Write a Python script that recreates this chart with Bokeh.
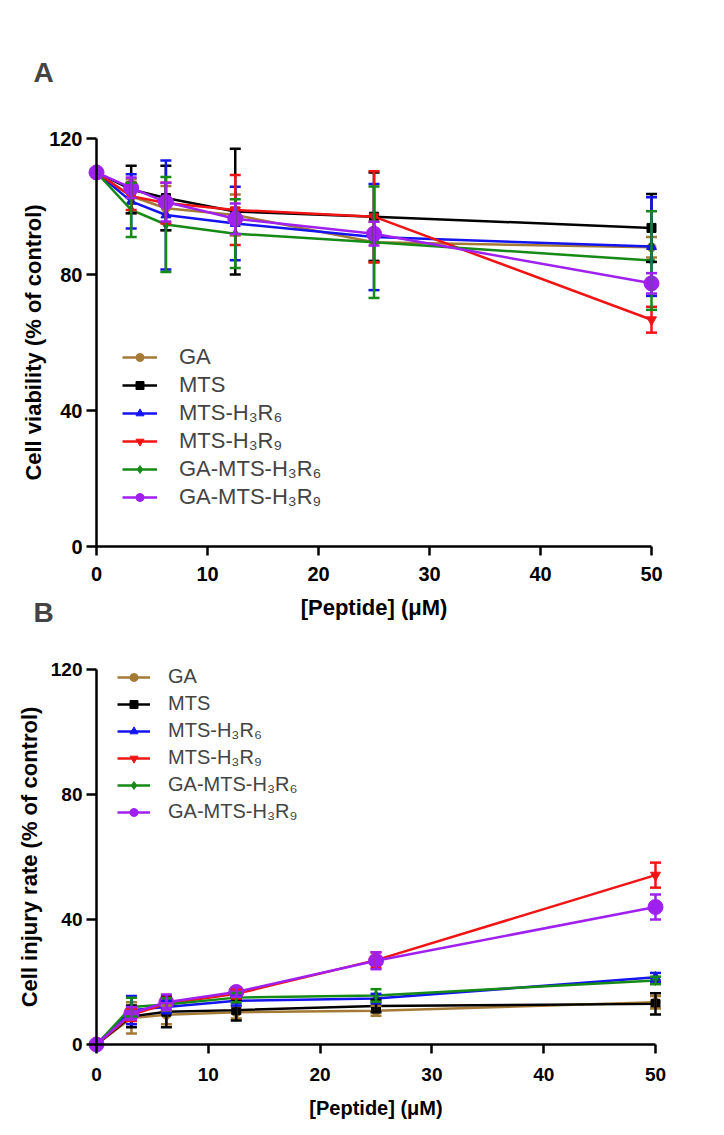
from bokeh.plotting import figure
from bokeh.models import (Range1d, ColumnDataSource, Whisker, TeeHead, Legend,
                          LegendItem, Label, FixedTicker)
from bokeh.layouts import column
from bokeh.embed import file_html
from bokeh.resources import INLINE

# ---------------- data ----------------
conc = [0, 3.125, 6.25, 12.5, 25, 50]
names = ["GA", "MTS", "MTS-H\u2083R\u2086", "MTS-H\u2083R\u2089",
         "GA-MTS-H\u2083R\u2086", "GA-MTS-H\u2083R\u2089"]
x_ticks = [0, 10, 20, 30, 40, 50]
y_ticks = [0, 40, 80, 120]

# Panel A: cell viability (% of control)
via_GA = [110, 103, 99.5, 97.5, 89.5, 88]
via_GA_err = [0, 5, 6.5, 6, 6, 3]
via_MTS = [110, 105, 102.5, 98.5, 97, 93.7]
via_MTS_err = [0, 7, 9.5, 18.5, 13, 10]
via_R6 = [110, 101.5, 97.5, 95, 91, 88.2]
via_R6_err = [0, 8, 16, 10.8, 15.6, 14.5]
via_R9 = [110, 103, 101, 99, 97, 66.7]
via_R9_err = [0, 4, 6, 10.3, 13.4, 3.8]
via_GAR6 = [110, 99, 94.7, 92, 89.5, 84.1]
via_GAR6_err = [0, 8, 14, 10.1, 16.4, 14.5]
via_GAR9 = [110, 105.5, 101.3, 96.4, 92, 77.4]
via_GAR9_err = [0, 3, 5.7, 4.5, 3.5, 3]

# Panel B: cell injury rate (% of control)
inj_GA = [0, 8.5, 9.5, 10.3, 10.8, 13.5]
inj_GA_err = [0, 5, 3, 2, 1.6, 2]
inj_MTS = [0, 9, 10.5, 11, 12.3, 13]
inj_MTS_err = [0, 3.5, 5, 3.3, 2, 3.4]
inj_R6 = [0, 11, 12, 14, 14.7, 21.5]
inj_R6_err = [0, 4.5, 2, 1.5, 1.5, 1.4]
inj_R9 = [0, 9.5, 13, 16.2, 27, 54.2]
inj_R9_err = [0, 2, 2, 1.5, 2.5, 4]
inj_GAR6 = [0, 12, 12.8, 15, 15.7, 20.5]
inj_GAR6_err = [0, 3, 2, 1.5, 2, 1.2]
inj_GAR9 = [0, 10, 13.5, 16.8, 26.8, 44]
inj_GAR9_err = [0, 2, 2.5, 1.5, 2.7, 4]

# ---------------- styles ----------------
colors = ["#A47A35", "#000000", "#1414F0", "#F01414", "#168A16", "#A020EF"]
markers = ["circle", "square", "triangle", "inverted_triangle", "diamond", "circle"]
msizes = [9, 9, 10, 10, 10, 15]
FONT = "Liberation Sans"
W = 720


def make_panel(series, errs, height, xr, yr, ytitle, tick_fs, title_fs, xtitle_fs,
               leg_fs, leg_loc, leg_spacing, glyph_w, standoff, ylab_std, xlab_std,
               xtick_std):
    p = figure(width=W, height=height, frame_width=W, frame_height=height,
               x_range=Range1d(*xr), y_range=Range1d(*yr), output_backend="svg",
               toolbar_location=None, min_border=0)
    p.outline_line_color = None
    p.xgrid.visible = False
    p.ygrid.visible = False

    items = []
    for i in range(6):
        vals = series[i]
        e = errs[i]
        src = ColumnDataSource(dict(x=conc, y=vals,
                                    lo=[v - d for v, d in zip(vals, e)],
                                    hi=[v + d for v, d in zip(vals, e)]))
        w = Whisker(base="x", upper="hi", lower="lo", source=src,
                    line_color=colors[i], line_width=2.5,
                    upper_head=TeeHead(size=11, line_color=colors[i], line_width=2.5),
                    lower_head=TeeHead(size=11, line_color=colors[i], line_width=2.5),
                    level="glyph")
        p.add_layout(w)
        ln = p.line("x", "y", source=src, line_color=colors[i], line_width=2.5)
        sc = p.scatter("x", "y", source=src, marker=markers[i], size=msizes[i],
                       fill_color=colors[i], line_color=colors[i])
        items.append(LegendItem(label=names[i], renderers=[ln, sc]))

    leg = Legend(items=items, location=leg_loc, border_line_color=None,
                 background_fill_alpha=0, padding=0, margin=0, spacing=leg_spacing,
                 glyph_width=glyph_w, glyph_height=20, label_height=20,
                 label_standoff=standoff, label_text_font=FONT,
                 label_text_font_size=f"{leg_fs}px")
    p.add_layout(leg)

    for ax in (p.xaxis[0], p.yaxis[0]):
        ax.fixed_location = 0
        ax.axis_line_width = 2.5
        ax.major_tick_line_width = 2.5
        ax.minor_tick_line_color = None
        ax.major_tick_in = 0
        ax.major_label_text_font = FONT
        ax.major_label_text_font_style = "bold"
        ax.major_label_text_font_size = f"{tick_fs}px"
        ax.major_label_text_color = "black"
        ax.axis_label_text_font = FONT
        ax.axis_label_text_font_style = "bold"
        ax.axis_label_text_color = "black"
    p.xaxis.ticker = FixedTicker(ticks=x_ticks)
    p.yaxis.ticker = FixedTicker(ticks=y_ticks)
    p.xaxis.bounds = (0, 50)
    p.yaxis.bounds = (0, 120)
    p.xaxis.major_tick_out = 9
    p.yaxis.major_tick_out = 10
    p.xaxis.major_label_standoff = xtick_std
    p.yaxis.major_label_standoff = 4
    p.xaxis.axis_label = "[Peptide] (\u03bcM)"
    p.yaxis.axis_label = ytitle
    p.xaxis.axis_label_text_font_size = f"{xtitle_fs}px"
    p.yaxis.axis_label_text_font_size = f"{title_fs}px"
    p.xaxis.axis_label_standoff = xlab_std
    p.yaxis.axis_label_standoff = ylab_std
    return p


# Panel A occupies page y 0..628 ; x: 0 -> 96 px, 11.1 px/unit ; y: 0 -> 546 px, 3.4 px/unit
HA = 628
pA = make_panel([via_GA, via_MTS, via_R6, via_R9, via_GAR6, via_GAR9],
                [via_GA_err, via_MTS_err, via_R6_err, via_R9_err, via_GAR6_err, via_GAR9_err],
                height=HA, xr=(-96 / 11.1, (W - 96) / 11.1),
                yr=(-(HA - 546) / 3.4, 546 / 3.4),
                ytitle="Cell viability (% of control)", tick_fs=20, title_fs=22,
                xtitle_fs=22, leg_fs=22, leg_loc=(122, 118), leg_spacing=2,
                glyph_w=35, standoff=22, ylab_std=0, xlab_std=11, xtick_std=11)

# Panel B occupies page y 628..1130 ; x: 0 -> 96 px, 11.18 px/unit ; y: 0 -> 1044 px, 3.125 px/unit
HB = 502
TOPB = 628
pB = make_panel([inj_GA, inj_MTS, inj_R6, inj_R9, inj_GAR6, inj_GAR9],
                [inj_GA_err, inj_MTS_err, inj_R6_err, inj_R9_err, inj_GAR6_err, inj_GAR9_err],
                height=HB, xr=(-96 / 11.18, (W - 96) / 11.18),
                yr=(-(TOPB + HB - 1044) / 3.125, (1044 - TOPB) / 3.125),
                ytitle="Cell injury rate (% of control)", tick_fs=19, title_fs=22,
                xtitle_fs=20, leg_fs=20, leg_loc=(117, 307), leg_spacing=4,
                glyph_w=33, standoff=18, ylab_std=6, xlab_std=13, xtick_std=14)

# panel letters
pA.add_layout(Label(x=(43 - 96) / 11.1, y=(546 - 72) / 3.4, text="A", text_font=FONT,
                    text_font_style="bold", text_font_size="28px", text_align="center",
                    text_baseline="middle"))
pA.add_layout(Label(x=(43 - 96) / 11.1, y=(546 - 612) / 3.4, text="B", text_font=FONT,
                    text_font_style="bold", text_font_size="28px", text_align="center",
                    text_baseline="middle"))

layout = column(pA, pB, spacing=0)
open("out.html", "w").write(file_html(layout, INLINE))
